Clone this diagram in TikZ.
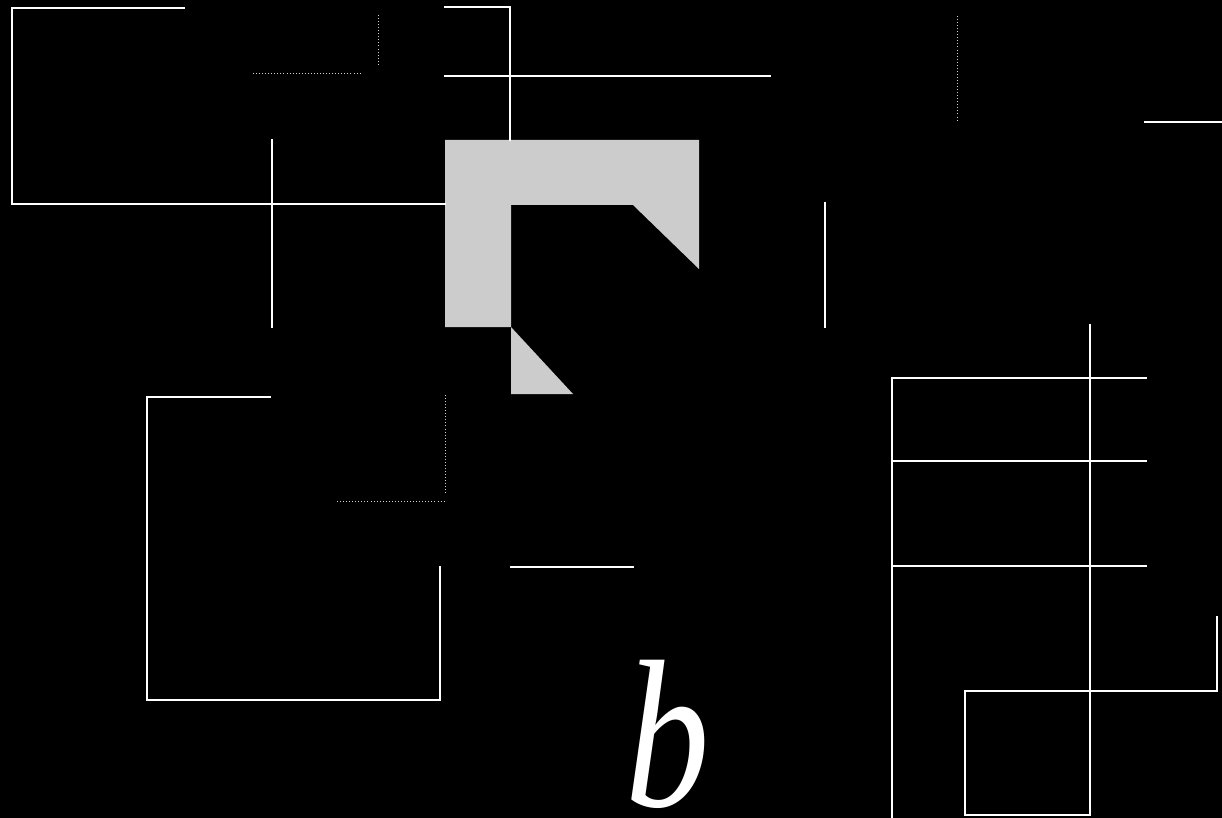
\documentclass[tikz,border=0pt]{standalone}
\usepackage{fontspec}
\setmainfont{Liberation Serif}
\begin{document}
\begin{tikzpicture}[
    x=0.03cm, y=-0.03cm,
    wline/.style={draw=white, line width=2pt, line cap=rect},
    faint/.style={draw=gray!35, line width=0.6pt, dotted},
    shade/.style={fill=black!20, draw=none},
    letter/.style={text=white, font=\fontsize{180}{180}\selectfont\itshape,
                   inner sep=0pt, text depth=0pt, anchor=base, xscale=0.8},
]
% background
\fill[black] (0,0) rectangle (1222,818);
\useasboundingbox (0,0) rectangle (1222,818);

% grey block
\fill[shade] (445,140) -- (699,140) -- (699,269) -- (633,205) -- (511,205)
    -- (511,327) -- (445,327) -- cycle;
\fill[shade] (511,327) -- (511,394) -- (573,394) -- cycle;

% faint traces
\draw[faint] (253,73) -- (360,73);
\draw[faint] (378,15) -- (378,66);
\draw[faint] (337,501) -- (445,501);
\draw[faint] (445,395) -- (445,493);
\draw[faint] (957,16) -- (957,122);

% upper left
\draw[wline] (184,8) -- (12,8) -- (12,204) -- (445,204);
\draw[wline] (272,140) -- (272,327);
\draw[wline] (445,7) -- (510,7) -- (510,140);
\draw[wline] (445,76) -- (770,76);

% lower left
\draw[wline] (270,397) -- (147,397) -- (147,700) -- (440,700) -- (440,567);
\draw[wline] (511,567) -- (633,567);

% middle right
\draw[wline] (825,203) -- (825,327);
\draw[wline] (1145,122) -- (1222,122);

% right frame
\draw[wline] (892,818) -- (892,378) -- (1146,378);
\draw[wline] (892,461) -- (1146,461);
\draw[wline] (892,566) -- (1146,566);
\draw[wline] (1090,325) -- (1090,815) -- (965,815) -- (965,691) -- (1217,691) -- (1217,617);

\node[letter] (lbl) at (668,806) {b};
\end{tikzpicture}
\end{document}
